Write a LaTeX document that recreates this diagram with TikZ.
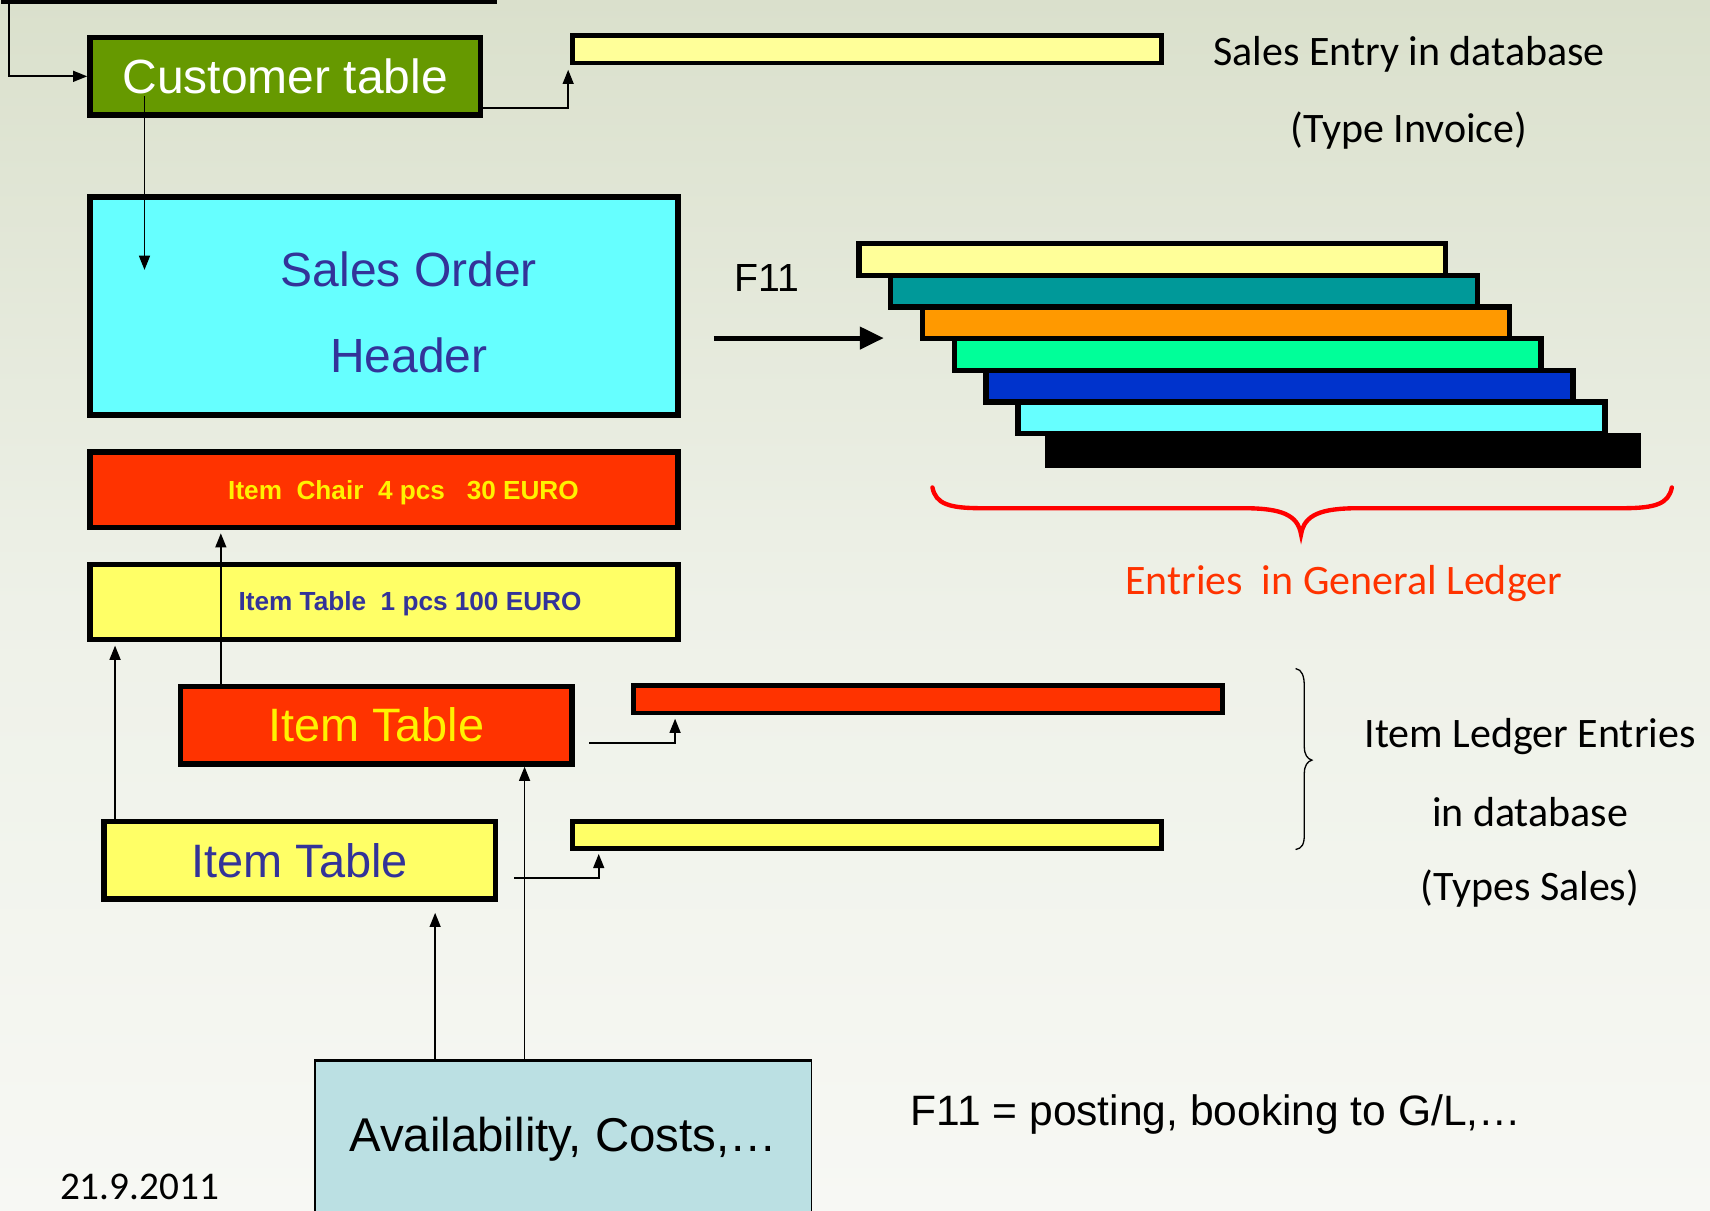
\documentclass[tikz,border=0pt]{standalone}
\usepackage{fontspec}
\setmainfont{Liberation Sans}
\newfontfamily\calib{Carlito}
\usetikzlibrary{arrows.meta}
\definecolor{grn}{HTML}{669900}
\definecolor{cyanbox}{HTML}{66FFFF}
\definecolor{redbox}{HTML}{FF3300}
\definecolor{yelbox}{HTML}{FFFF66}
\definecolor{ltyel}{HTML}{FFFF99}
\definecolor{teal}{HTML}{009999}
\definecolor{orng}{HTML}{FF9900}
\definecolor{mint}{HTML}{00FF99}
\definecolor{royal}{HTML}{0033CC}
\definecolor{availc}{HTML}{BBE0E3}
\definecolor{txtblue}{HTML}{333399}
\definecolor{bgtop}{HTML}{DAE0CC}
\definecolor{bgmid}{HTML}{EEF1E8}
\definecolor{bgbot}{HTML}{F7F8F4}
\begin{document}
\begin{tikzpicture}[x=1pt,y=-1pt,
  box/.style={draw=black, line width=5pt, inner sep=0pt, rectangle},
  bar/.style={draw=black, line width=4.5pt, inner sep=0pt, rectangle},
  stair/.style={draw=black, line width=5pt, inner sep=0pt, rectangle, minimum width=538pt, minimum height=29pt},
  conn/.style={draw=black, line width=1.6pt, -{Triangle[length=13pt,width=10pt]}},
  bigarr/.style={draw=black, line width=4.5pt, -{Triangle[length=22pt,width=20pt]}},
  big/.style={font=\fontsize{44}{52}\selectfont},
  calbt/.style={font=\calib\fontsize{38.5}{46}\selectfont},
  smallbold/.style={font=\bfseries\fontsize{24}{28}\selectfont}]
\useasboundingbox (0,0) rectangle (1568,1110);
\clip (0,0) rectangle (1568,1110);
\shade[top color=bgtop, bottom color=bgbot, middle color=bgmid] (0,0) rectangle (1568,1110);

% boxes
\node[box, fill=grn, minimum width=450pt, minimum height=36pt] (topgreen) at (228,-17) {};
\node[box, fill=grn, minimum width=358pt, minimum height=71pt, text=white, big] (cust) at (261.5,70) {Customer table};
\node[bar, fill=ltyel, minimum width=539.5pt, minimum height=25.5pt] (sebar) at (795,45) {};
\node[box, fill=cyanbox, minimum width=539pt, minimum height=200pt] (soh) at (352,280.5) {};
\node[text=txtblue, big] (sohA) at (375,247) {Sales Order};
\node[text=txtblue, big] (sohB) at (375,326) {Header};
\node[box, fill=redbox, minimum width=539pt, minimum height=69pt] (chair) at (352,449) {};
\node[text=yellow, smallbold] (chairTxt) at (370,452) {Item\ \ Chair\ \ 4 pcs\ \ \ 30 EURO};
\node[box, fill=yelbox, minimum width=539pt, minimum height=69pt] (itembar) at (352,552) {};
\node[text=txtblue, smallbold] (itemTxt) at (376,554) {Item Table\ \ 1 pcs 100 EURO};
\node[box, fill=redbox, minimum width=359pt, minimum height=71pt, text=yellow, font=\fontsize{43}{50}\selectfont] (redit) at (345,665) {Item Table};
\node[box, fill=yelbox, minimum width=359pt, minimum height=71pt, text=txtblue, font=\fontsize{43}{50}\selectfont] (yelit) at (275,789) {Item Table};
\node[bar, fill=redbox, minimum width=539.5pt, minimum height=25.5pt] (redled) at (851,641) {};
\node[bar, fill=yelbox, minimum width=539.5pt, minimum height=24.5pt] (yelled) at (795,765.5) {};
\node[draw=black, line width=1.5pt, fill=availc, inner sep=0pt, minimum width=455.5pt, minimum height=144pt, font=\fontsize{43.5}{50}\selectfont] (avail) at (516.5,1045) {Availability, Costs,…};
\draw[line width=3pt] (avail.north west) -- (avail.north east);

% general ledger stairs
\node[stair, fill=ltyel] (s1) at (1056.5,238) {};
\node[stair, fill=teal] (s2) at (1085.7,267) {};
\node[stair, fill=orng] (s3) at (1114.9,296) {};
\node[stair, fill=mint] (s4) at (1144.1,325) {};
\node[stair, fill=royal] (s5) at (1173.3,354) {};
\node[stair, fill=cyanbox] (s6) at (1202.5,383) {};
\node[fill=black, inner sep=0pt, minimum width=547pt, minimum height=32pt] (s7) at (1231.5,413) {};

% texts
\node[font=\fontsize{36}{42}\selectfont] (f11) at (703,255) {F11};
\node[calbt] (seTxt) at (1292,50) {Sales Entry in database};
\node[calbt] (typeInv) at (1292,120) {(Type Invoice)};
\node[calbt, text=redbox] (entGL) at (1232,535) {Entries\ \ in General Ledger};
\node[calbt] (ile1) at (1403,675) {Item Ledger Entries};
\node[calbt] (ile2) at (1403,745) {in database};
\node[calbt] (ile3) at (1403,815) {(Types Sales)};
\node[font=\fontsize{39}{46}\selectfont] (posting) at (1115,1022) {F11 = posting, booking to G/L,…};
\node[font=\calib\fontsize{36}{42}\selectfont] (date) at (128,1088) {21.9.2011};

% braces
\draw[red, line width=4pt, line cap=round] (855,447) .. controls (858,462) and (870,466) .. (900,466) -- (1140,466) .. controls (1175,466) and (1190,472) .. (1193,490) .. controls (1196,472) and (1211,466) .. (1246,466) -- (1488,466) .. controls (1518,466) and (1530,462) .. (1533,447);
\draw[line width=1.2pt] (1188,613) .. controls (1194,614) and (1196,620) .. (1196,630) -- (1196,685) .. controls (1196,692) and (1199,696) .. (1203,697) .. controls (1199,698) and (1196,702) .. (1196,709) -- (1196,765) .. controls (1196,774) and (1194,778) .. (1188,779);

% connectors
\draw[conn] ([xshift=8pt]topgreen.south west) |- (cust.west);
\draw[conn] ([yshift=-29pt]cust.east) -| ([xshift=-2pt,yshift=-4pt]sebar.south west);
\draw[conn] ([xshift=52.5pt,yshift=20pt]cust.south west) -- ([xshift=52.5pt,yshift=-69.5pt]soh.north west);
\draw[conn, shorten >=3pt] ([xshift=39.5pt]redit.north west) coordinate (a1) -- (a1 |- chair.south);
\draw[conn, shorten >=3pt] ([xshift=12.5pt]yelit.north west) coordinate (a2) -- (a2 |- itembar.south);
\draw[conn] ([xshift=13.5pt,yshift=-16pt]redit.east) -| ([xshift=40pt,yshift=-3pt]redled.south west);
\draw[conn] ([xshift=14.5pt,yshift=-16pt]yelit.east) -| ([xshift=26pt,yshift=-3pt]yelled.south west);
\draw[conn, shorten >=10pt] ([xshift=111pt]avail.north west) coordinate (a3) -- (a3 |- yelit.south);
\draw[conn] ([xshift=193pt]avail.north west) coordinate (a4) -- (a4 |- redit.south);
\draw[bigarr] ([xshift=30.5pt,yshift=-29.5pt]soh.east) -- ([xshift=-33pt,yshift=-14pt]s3.west);
\end{tikzpicture}
\end{document}
